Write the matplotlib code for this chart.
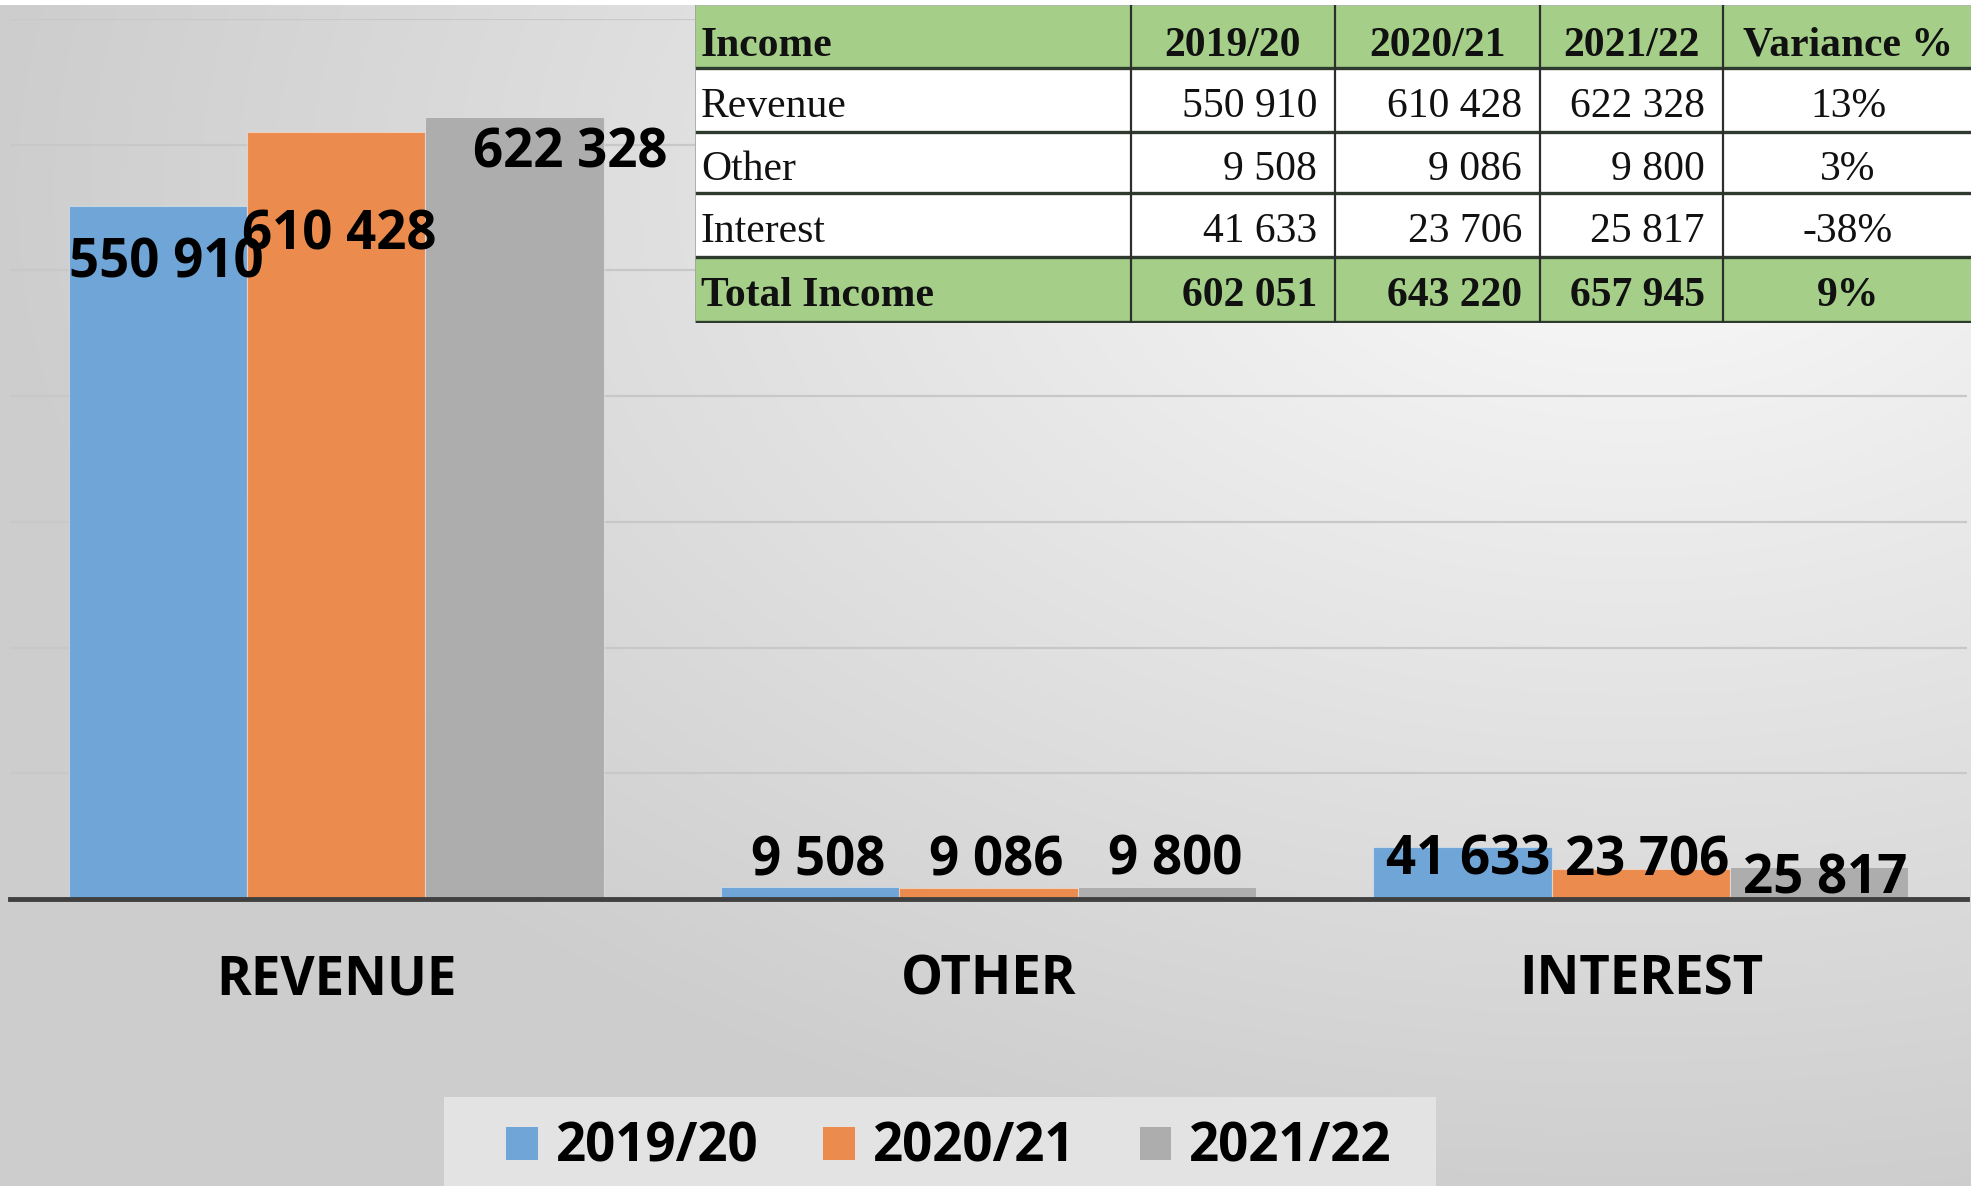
import numpy as np
import matplotlib
matplotlib.use("Agg")
import matplotlib.pyplot as plt
from matplotlib.patches import Rectangle, Patch

# ---------------- data ----------------
categories = ["REVENUE", "OTHER", "INTEREST"]
series_names = ["2019/20", "2020/21", "2021/22"]
v_2019_20 = [550910, 9508, 41633]
v_2020_21 = [610428, 9086, 23706]
v_2021_22 = [622328, 9800, 25817]
table_header = ["Income", "2019/20", "2020/21", "2021/22", "Variance %"]
table_rows = ["Revenue", "Other", "Interest"]
total_label = "Total Income"

series = [v_2019_20, v_2020_21, v_2021_22]
colors = ["#6fa5d7", "#ec8b4e", "#adadad"]

# label offsets (pixels) from each bar's top-centre, per series per category
label_dx = [[8, 8, 6], [3, 8, 6], [56, 8, 6]]
label_dy = [[-57, 26, -14], [-104, 26, 8], [-37, 26, -13]]


def fmt(v):
    return f"{v:,}".replace(",", " ")


plt.rcParams['font.family'] = ['Open Sans', 'DejaVu Sans']

W, H = 1971, 1186
DPI = 100
fig = plt.figure(figsize=(W / DPI, H / DPI), dpi=DPI)

# ---------------- background gradient ----------------
bg = fig.add_axes([0, 0, 1, 1], zorder=-10)
yy, xx = np.mgrid[0:H, 0:W]
d = np.sqrt((xx - 1630.0) ** 2 + ((yy - 190.0) * 1.6) ** 2)
v = 250 - 45 * np.clip(d / 1650, 0, 1)
v[:5, :] = 255
img = np.dstack([v, v, v]) / 255.0
bg.imshow(img, aspect='auto', extent=[0, 1, 0, 1], interpolation='bilinear')
bg.axis('off')

# legend background box
fig.patches.append(Rectangle((444 / W, 0), 992 / W, 89 / H, transform=fig.transFigure,
                             facecolor='#e3e3e3', edgecolor='none', zorder=-5))

# ---------------- main chart ----------------
ax = fig.add_axes([10 / W, 1 - 899 / H, 1957 / W, 880 / H])
ax.patch.set_alpha(0)
x = np.arange(len(categories))
bw = 0.82 / 3
offs = [-bw, 0, bw]
for i, (vals, c) in enumerate(zip(series, colors)):
    bars = ax.bar(x + offs[i], vals, width=bw, color=c, edgecolor=(1, 1, 1, 0.4),
                  linewidth=0.8, zorder=2, label=series_names[i])
    for j, b in enumerate(bars):
        ax.annotate(fmt(vals[j]), xy=(b.get_x() + b.get_width() / 2, b.get_height()),
                    xytext=(label_dx[i][j], label_dy[i][j]), textcoords='offset pixels',
                    ha='center', va='center', fontsize=38, fontweight='bold',
                    color='black', zorder=4)

ax.set_xlim(-0.5, 2.5)
ax.set_ylim(0, 700000)
ax.set_yticks(np.arange(0, 700001, 100000))
ax.yaxis.grid(True, color='#c8c8c8', linewidth=1.6, zorder=0)
ax.set_axisbelow(True)
ax.tick_params(axis='y', length=0, labelleft=False)
ax.set_xticks(x, categories)
ax.tick_params(axis='x', length=0, pad=39)
for t in ax.get_xticklabels():
    t.set_fontsize(38)
    t.set_fontweight('bold')
for s in ax.spines.values():
    s.set_visible(False)
ax.axhline(0, color='#404040', linewidth=3.5, zorder=3, clip_on=False)

# ---------------- legend ----------------
handles = [Patch(facecolor=c, edgecolor='none') for c in colors]
leg = fig.legend(handles, series_names, loc='center', bbox_to_anchor=(949 / W, 1 - 1148 / H),
                 ncol=3, frameon=False, prop={'weight': 'bold', 'size': 38},
                 handlelength=0.6, handleheight=0.6, handletextpad=0.34,
                 columnspacing=1.22, borderaxespad=0)

# ---------------- table ----------------
tax = fig.add_axes([695 / W, 1 - 323 / H, (W - 695) / W, 318 / H], zorder=5)
tax.set_xlim(695, W)
tax.set_ylim(323, 5)
tax.axis('off')
col_edges = [695, 1131, 1335, 1540, 1723, 1975]
row_edges = [5, 68, 132, 193, 257, 322]
green = '#a5cf89'

totals = [sum(s) for s in series]
rows_text = [table_header]
for k, name in enumerate(table_rows):
    var = round((series[2][k] / series[0][k] - 1) * 100)
    rows_text.append([name] + [fmt(s[k]) for s in series] + [f"{var}%"])
tvar = round((totals[2] / totals[0] - 1) * 100)
rows_text.append([total_label] + [fmt(t) for t in totals] + [f"{tvar}%"])

for r in range(5):
    y0, y1 = row_edges[r], row_edges[r + 1]
    fc = green if r in (0, 4) else 'white'
    tax.add_patch(Rectangle((col_edges[0], y0), col_edges[-1] - col_edges[0], y1 - y0,
                            facecolor=fc, edgecolor='none', zorder=1))
    bold = r in (0, 4)
    yc = (y0 + y1) / 2 + (9 if r == 0 else 7)
    for cidx, txt in enumerate(rows_text[r]):
        if cidx == 0:
            xx_, ha = col_edges[0] + 6, 'left'
        elif cidx == 4:
            xx_, ha = (col_edges[4] + 1973) / 2, 'center'
        elif r == 0:
            xx_, ha = (col_edges[cidx] + col_edges[cidx + 1]) / 2, 'center'
        else:
            xx_, ha = col_edges[cidx + 1] - 18, 'right'
        tax.text(xx_, yc, txt, ha=ha, va='center', fontsize=30,
                 family=['Liberation Serif', 'DejaVu Serif'],
                 fontweight='bold' if bold else 'normal', color='#111111', zorder=3)

for yv in row_edges[1:]:
    tax.plot([col_edges[0], col_edges[-1]], [yv, yv], color='#2e3a2e', linewidth=2.4, zorder=2,
             solid_capstyle='butt')
tax.plot([col_edges[0], col_edges[-1]], [row_edges[0], row_edges[0]], color='#b0b8b0',
         linewidth=1.2, zorder=2)
for xv in col_edges[1:-1]:
    tax.plot([xv, xv], [row_edges[0], row_edges[-1]], color='#2e2e2e', linewidth=1.6, zorder=2)
tax.plot([col_edges[0], col_edges[0]], [row_edges[0], row_edges[-1]], color='#9aa59a',
         linewidth=1.2, zorder=2)

fig.savefig("out.png", dpi=DPI)
